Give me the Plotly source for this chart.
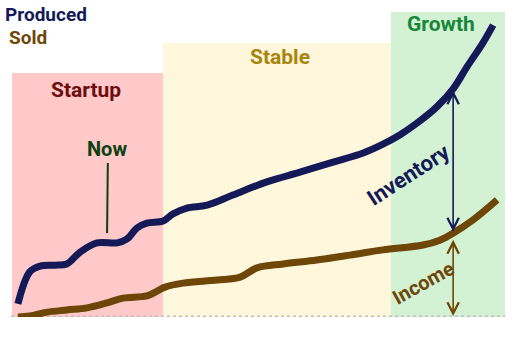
import plotly.graph_objects as go

# Time axis (arbitrary units 0-100) and series values
produced_x = [1.4, 3.8, 5.9, 8.9, 11.3, 14.0, 17.4, 21.5, 23.5, 25.5, 27.5, 30.8, 32.8, 35.6,
              39.7, 44.9, 51.8, 58.5, 65.2, 71.3, 75.3, 78.7, 82.2, 86.2, 89.5, 92.3, 95.5, 97.6]
produced_y = [4.3, 14.8, 16.7, 17.0, 17.4, 21.3, 24.3, 24.3, 25.6, 29.2, 30.8, 31.5, 33.8, 35.7,
              36.7, 40.0, 44.3, 47.5, 50.8, 53.8, 56.7, 59.7, 63.6, 68.9, 74.8, 82.0, 89.8, 95.7]

sold_x = [1.4, 3.8, 7.3, 11.3, 15.4, 19.4, 22.7, 27.5, 29.6, 31.2, 34.8, 41.7, 46.4, 49.8,
          55.1, 61.9, 68.6, 75.3, 83.4, 86.8, 89.5, 93.5, 98.4]
sold_y = [0.0, 0.3, 1.6, 2.3, 3.0, 4.6, 6.2, 6.9, 8.5, 9.8, 11.1, 12.1, 13.1, 16.1,
          17.4, 18.7, 20.3, 22.0, 23.6, 25.2, 27.5, 31.8, 38.4]

phase_names = ["Startup", "Stable", "Growth"]
phase_start = [0.2, 30.8, 76.9]
phase_end = [30.8, 76.9, 100.0]
phase_top = [80.0, 89.8, 100.0]

now_x = 19.6
inventory_x = 89.5
inventory_top = 74.8
inventory_bottom = 28.0
income_top = 25.8
income_bottom = 0.3

NAVY = "#141a58"
BROWN = "#6e4608"
FONT = "Roboto, sans-serif"

phase_fill = ["#ffc9c9", "#fff7dc", "#d3f1d3"]
phase_text = ["#6e0d0d", "#a8850f", "#17883a"]

fig = go.Figure()

shapes = []
for s, e, t, c in zip(phase_start, phase_end, phase_top, phase_fill):
    shapes.append(dict(type="rect", xref="x", yref="y", x0=s, x1=e, y0=0, y1=t,
                       fillcolor=c, line=dict(width=0), layer="below"))
shapes.append(dict(type="line", xref="x", yref="y", x0=0, x1=100, y0=0, y1=0,
                   line=dict(color="#bdbdbd", width=3, dash="dot"), layer="below"))
shapes.append(dict(type="line", xref="x", yref="y", x0=now_x, x1=now_x - 0.15, y0=50.5, y1=27.5,
                   line=dict(color="#0d4010", width=2)))

fig.add_trace(go.Scatter(x=produced_x, y=produced_y, mode="lines", name="Produced",
                         line=dict(color=NAVY, width=7, shape="spline", smoothing=1.0),
                         showlegend=False, hoverinfo="skip"))
fig.add_trace(go.Scatter(x=sold_x, y=sold_y, mode="lines", name="Sold",
                         line=dict(color=BROWN, width=7, shape="spline", smoothing=1.0),
                         showlegend=False, hoverinfo="skip"))

ann = []
def label(text, x, y, color, size=19, angle=0):
    ann.append(dict(text="<b>%s</b>" % text, x=x, y=y, xref="x", yref="y", showarrow=False,
                    font=dict(family=FONT, size=size, color=color), textangle=angle))

label("Produced", 7.1, 99.3, NAVY, size=19)
label("Sold", 3.4, 91.8, BROWN, size=19)
label(phase_names[0], 15.2, 74.4, phase_text[0], size=21)
label(phase_names[1], 54.5, 85.2, phase_text[1], size=21)
label(phase_names[2], 87.1, 96.1, phase_text[2], size=21)
label("Now", 19.4, 55.1, "#0d4010", size=20)
label("Inventory", 80.6, 46.6, NAVY, size=22, angle=-33)
label("Income", 83.4, 11.1, BROWN, size=20, angle=-29)

# double-headed arrows
ann.append(dict(x=inventory_x, y=inventory_bottom, ax=inventory_x, ay=inventory_top,
                xref="x", yref="y", axref="x", ayref="y", text="", showarrow=True,
                arrowhead=5, startarrowhead=5, arrowside="end+start", arrowsize=1.4,
                startarrowsize=1.4, arrowwidth=1.6, arrowcolor=NAVY, standoff=0, startstandoff=0))
ann.append(dict(x=inventory_x, y=income_bottom, ax=inventory_x, ay=income_top,
                xref="x", yref="y", axref="x", ayref="y", text="", showarrow=True,
                arrowhead=5, startarrowhead=5, arrowside="end+start", arrowsize=1.4,
                startarrowsize=1.4, arrowwidth=1.6, arrowcolor=BROWN, standoff=0, startstandoff=0))

fig.update_layout(
    width=512, height=361,
    margin=dict(l=11, r=7, t=12, b=44),
    paper_bgcolor="white", plot_bgcolor="white",
    xaxis=dict(range=[0, 100], visible=False, fixedrange=True),
    yaxis=dict(range=[0, 100], visible=False, fixedrange=True),
    shapes=shapes, annotations=ann,
)

fig.write_html("out.html")
